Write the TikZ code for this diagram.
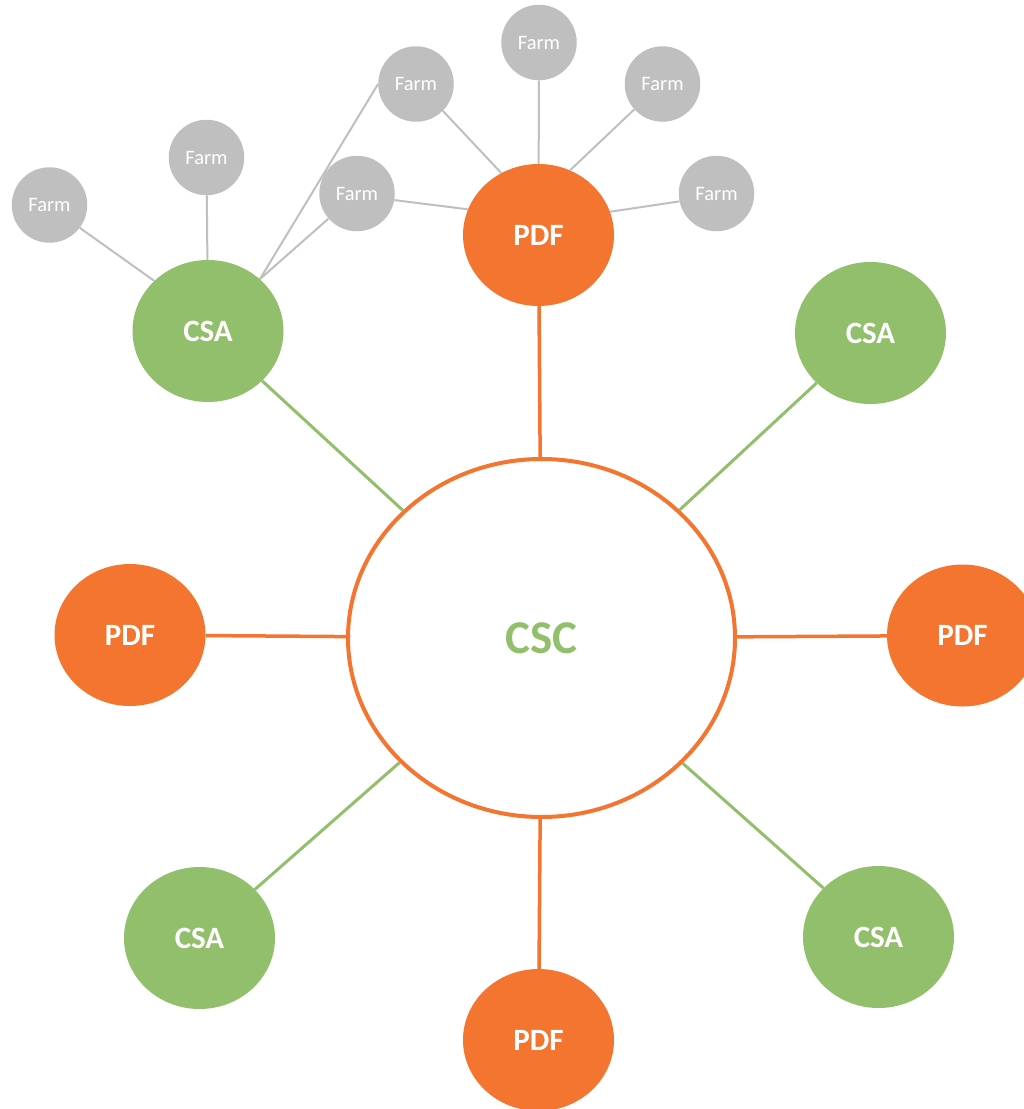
\documentclass[tikz,border=0pt]{standalone}
\usepackage{fontspec}
\setmainfont{Carlito}
\usetikzlibrary{shapes.geometric}
\definecolor{pdforange}{RGB}{243,117,48}
\definecolor{csagreen}{RGB}{146,191,107}
\definecolor{farmgray}{RGB}{191,191,191}
\begin{document}
\begin{tikzpicture}[x=1pt, y=-1pt]
    % Define the styles for the circles and the links
    \tikzset{hub/.style={ellipse, draw=pdforange, line width=4pt, fill=white, minimum width=387pt, minimum height=358pt, text=csagreen, font=\bfseries\fontsize{47}{47}\selectfont}}
    \tikzset{pdf/.style={ellipse, fill=pdforange, minimum width=151pt, minimum height=142pt, inner sep=0pt, text=white, font=\bfseries\fontsize{31}{31}\selectfont}}
    \tikzset{csa/.style={pdf, fill=csagreen}}
    \tikzset{farm/.style={circle, fill=farmgray, minimum size=75.5pt, inner sep=0pt, text=white, font=\fontsize{20.5}{20.5}\selectfont}}
    \tikzset{orangelink/.style={draw=pdforange, line width=3.5pt}}
    \tikzset{greenlink/.style={draw=csagreen, line width=3pt}}
    \tikzset{farmlink/.style={draw=farmgray, line width=2pt}}

    % Fix the size of the picture
    \clip (0,0) rectangle (1024,1109);

    % Place the centre
    \node[hub] (csc) at (541.5,638) {CSC};

    % Place the PDF nodes
    \node[pdf] (pdfn) at (538.5,235) {PDF};
    \node[pdf] (pdfw) at (130,635) {PDF};
    \node[pdf] (pdfe) at (962.5,635.5) {PDF};
    \node[pdf] (pdfs) at (538.5,1040) {PDF};

    % Place the CSA nodes
    \node[csa] (csanw) at (208,331) {CSA};
    \node[csa] (csane) at (870.5,333) {CSA};
    \node[csa] (csasw) at (199.5,938) {CSA};
    \node[csa] (csase) at (878.5,937) {CSA};

    % Place the farms
    \node[farm] (farm1) at (49.5,205) {Farm};
    \node[farm] (farm2) at (206.5,157.5) {Farm};
    \node[farm] (farm3) at (357,193.5) {Farm};
    \node[farm] (farm4) at (416,84) {Farm};
    \node[farm] (farm5) at (539,42.5) {Farm};
    \node[farm] (farm6) at (662.5,84) {Farm};
    \node[farm] (farm7) at (716.5,193.5) {Farm};

    % Link the PDF and CSA nodes to the centre
    \draw[orangelink] (pdfn) -- (csc);
    \draw[orangelink] (pdfw) -- (csc);
    \draw[orangelink] (pdfe) -- (csc);
    \draw[orangelink] (pdfs) -- (csc);
    \draw[greenlink] (csanw) -- (csc);
    \draw[greenlink] (csane) -- (csc);
    \draw[greenlink] (csasw) -- (csc);
    \draw[greenlink] (csase) -- (csc);

    % Link the farms
    \draw[farmlink] (farm1.-37) -- (csanw.137);
    \draw[farmlink] (farm2) -- (csanw);
    \draw[farmlink] (farm3) -- (csanw.45);
    \draw[farmlink] (farm4.west) -- (csanw.45);
    \draw[farmlink] (farm3.-10) -- (pdfn.160);
    \draw[farmlink] (farm4.-45) -- (pdfn.121);
    \draw[farmlink] (farm5) -- (pdfn);
    \draw[farmlink] (farm6.222) -- (pdfn.64);
    \draw[farmlink] (farm7.192) -- (pdfn.18);
\end{tikzpicture}
\end{document}
